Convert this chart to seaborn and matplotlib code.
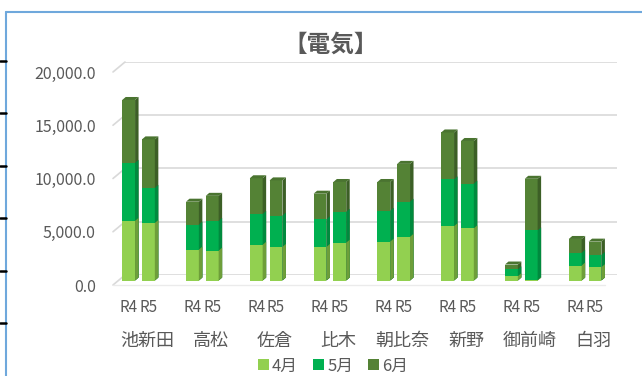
import matplotlib
matplotlib.use("Agg")
import matplotlib.pyplot as plt
import matplotlib.transforms as mtransforms
from matplotlib.patches import Polygon, Patch
from matplotlib.lines import Line2D
from matplotlib.ticker import FuncFormatter
import pandas as pd
import seaborn as sns

# --- data (kWh by site, fiscal year and month) ---
sites = ["池新田", "高松", "佐倉", "比木", "朝比奈", "新野", "御前崎", "白羽"]
years = ["R4", "R5"]
months = ["4月", "5月", "6月"]

apr_r4 = [5600, 2900, 3350, 3150, 3650, 5100, 400, 1400]
apr_r5 = [5400, 2800, 3150, 3550, 4100, 4900, 50, 1250]
may_r4 = [5450, 2350, 2900, 2600, 2900, 4400, 650, 1200]
may_r5 = [3300, 2800, 2950, 2900, 3300, 4200, 4650, 1150]
jun_r4 = [5900, 2150, 3350, 2400, 2700, 4400, 450, 1300]
jun_r5 = [4550, 2350, 3300, 2800, 3550, 4000, 4850, 1250]

y_ticks = [0, 5000, 10000, 15000, 20000]

# --- style ---
front_colors = {"4月": "#92D050", "5月": "#00B050", "6月": "#548235"}
side_colors = {"4月": "#6E9E3A", "5月": "#008A3E", "6月": "#3C5F26"}
top_color = "#4A7430"
text_color = "#595959"
grid_color = "#D9D9D9"

sns.set_theme(style="white")
plt.rcParams["font.family"] = ["Noto Sans CJK JP", "DejaVu Sans"]

rows = []
for i, s in enumerate(sites):
    rows.append({"site": s, "year": "R4", "4月": apr_r4[i], "5月": may_r4[i], "6月": jun_r4[i]})
    rows.append({"site": s, "year": "R5", "4月": apr_r5[i], "5月": may_r5[i], "6月": jun_r5[i]})
df = pd.DataFrame(rows)
df["cum4"] = df["4月"]
df["cum5"] = df["cum4"] + df["5月"]
df["cum6"] = df["cum5"] + df["6月"]

W, H, DPI = 642, 376, 100
fig = plt.figure(figsize=(W / DPI, H / DPI), dpi=DPI)
fig.patch.set_facecolor("white")

ax_left, ax_right, ax_top, ax_bottom = 125, 617, 62, 275
ax = fig.add_axes([ax_left / W, (H - ax_bottom) / H,
                   (ax_right - ax_left) / W, (ax_bottom - ax_top) / H])

# stacked columns: draw cumulative totals from the top layer down
layers = [("6月", "cum6"), ("5月", "cum5"), ("4月", "cum4")]
layer_patches = {}
for m, col in layers:
    n0 = len(ax.patches)
    sns.barplot(data=df, x="site", y=col, hue="year", order=sites, hue_order=years,
                palette={yr: front_colors[m] for yr in years}, width=0.62, gap=0.35,
                dodge=True, errorbar=None, legend=False, saturation=1, linewidth=0, ax=ax)
    layer_patches[m] = list(ax.patches[n0:])

xlim = (-0.306, 7.406)
ax.set_xlim(*xlim)
ax.set_ylim(y_ticks[0], y_ticks[-1])

# pixel -> data conversion for the pseudo 3-D depth
ux = (ax_right - ax_left) / (xlim[1] - xlim[0])
uy = (ax_bottom - ax_top) / (y_ticks[-1] - y_ticks[0])
fx, fy = -6 / ux, -5.5 / uy      # front face offset from back wall
bx, by = -2.5 / ux, -2.5 / uy    # back face of the column

for z, (m, _) in enumerate(layers):
    for p in layer_patches[m]:
        x0, w, h = p.get_x(), p.get_width(), p.get_height()
        p.set_x(x0 + fx)
        p.set_y(fy)
        p.set_clip_on(False)
        p.set_zorder(3 + z)
        side = Polygon([(x0 + w + fx, fy), (x0 + w + fx, fy + h),
                        (x0 + w + bx, by + h), (x0 + w + bx, by)],
                       closed=True, facecolor=side_colors[m], edgecolor="none",
                       clip_on=False, zorder=3 + z)
        ax.add_patch(side)
        if m == "6月":
            top = Polygon([(x0 + fx, fy + h), (x0 + w + fx, fy + h),
                           (x0 + w + bx, by + h), (x0 + bx, by + h)],
                          closed=True, facecolor=top_color, edgecolor="none",
                          clip_on=False, zorder=3 + z)
            ax.add_patch(top)

# gridlines on the back wall plus the slanted side-wall segments
ax.set_yticks(y_ticks)
ax.yaxis.grid(True, color=grid_color, lw=1.2)
ax.xaxis.grid(False)
ax.set_axisbelow(True)
for v in y_ticks:
    ax.plot([xlim[0], xlim[0] - 12 / ux], [v, v - 10 / uy], color=grid_color,
            lw=1.2, clip_on=False, zorder=1)
ax.plot([xlim[0] - 12 / ux, xlim[1] - 12 / ux], [-10 / uy, -10 / uy],
        color="#EBEBEB", lw=1.0, clip_on=False, zorder=1)

for sp in ax.spines.values():
    sp.set_visible(False)

ax.yaxis.set_major_formatter(FuncFormatter(lambda v, _: f"{v:,.1f}"))
ax.tick_params(axis="y", length=0, pad=21, labelsize=11.5, labelcolor=text_color)
shift = mtransforms.ScaledTranslation(0, -10 / DPI, fig.dpi_scale_trans)
for lbl in ax.get_yticklabels():
    lbl.set_transform(lbl.get_transform() + shift)

# year labels under each column, site names under each pair
xt, xl = [], []
for i in range(len(sites)):
    for k, yr in enumerate(years):
        xt.append(i + (-0.155 if k == 0 else 0.155) + fx)
        xl.append(yr)
ax.set_xticks(xt, xl)
ax.tick_params(axis="x", length=0, pad=17, labelsize=11, labelcolor=text_color)
ax.set_xlabel("")
ax.set_ylabel("")

blend = mtransforms.blended_transform_factory(ax.transData, fig.transFigure)
for i, s in enumerate(sites):
    ax.text(i + 0.04, (H - 341) / H, s, transform=blend, ha="center", va="center",
            fontsize=13, color=text_color)

fig.text(331 / W, (H - 45) / H, "【電気】", ha="center", va="center",
         fontsize=17, fontweight="bold", color=text_color)

handles = [Patch(facecolor=front_colors[m], edgecolor="none", label=m) for m in months]
fig.legend(handles=handles, loc="center", bbox_to_anchor=(333 / W, (H - 366) / H),
           ncol=3, frameon=False, fontsize=12, handlelength=0.65, handleheight=0.65,
           handletextpad=0.2, columnspacing=0.9, labelcolor=text_color)

# chart frame and sheet cell borders
fig.add_artist(Line2D([6 / W, 6 / W], [0, (H - 12) / H], color="#6FA8DC", lw=1.5,
                      transform=fig.transFigure))
fig.add_artist(Line2D([6 / W, 1], [(H - 12) / H, (H - 12) / H], color="#6FA8DC", lw=1.5,
                      transform=fig.transFigure))
for yy in [61, 113, 166, 218, 271, 323]:
    fig.add_artist(Line2D([0, 6 / W], [(H - yy) / H, (H - yy) / H], color="black", lw=1.8,
                          transform=fig.transFigure))

fig.savefig("out.png", dpi=DPI, facecolor="white")
